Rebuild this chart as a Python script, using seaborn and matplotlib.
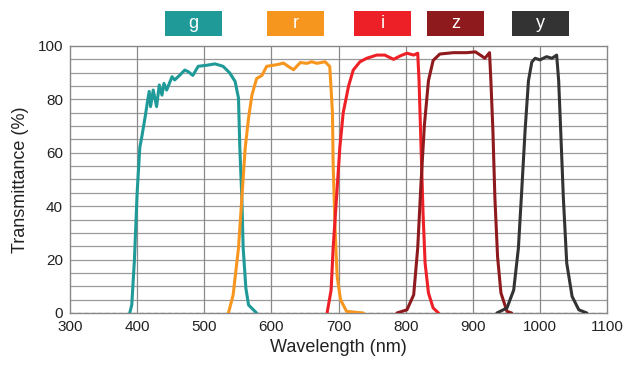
import numpy as np
import pandas as pd
import matplotlib
matplotlib.use("Agg")
import matplotlib.pyplot as plt
import seaborn as sns
from matplotlib.patches import Rectangle

# ---- data ----
filters = ["g", "r", "i", "z", "y"]
colors = ["#1f9a98", "#f7961f", "#ee2027", "#8f1a1d", "#333333"]

g_wl = [389, 392, 396, 400, 404, 407, 412, 415, 418, 420, 424, 429, 433, 437, 440, 444, 452, 456, 464, 471, 476, 483, 491, 504, 516, 528, 538, 546, 551, 553, 556, 558, 562, 566, 578]
g_t = [0, 3, 20, 45, 62, 66, 73.5, 78.5, 83, 77.3, 83.5, 77.3, 85.4, 81.6, 86, 83.5, 88.5, 87.3, 89.2, 91, 90.4, 89, 92.4, 92.8, 93.3, 92.4, 89.9, 86.7, 80.5, 61.8, 43, 24.3, 9.3, 3, 0]

r_wl = [536, 543, 551, 556, 561, 566, 571, 578, 586, 593, 608, 618, 625, 633, 643, 653, 660, 668, 680, 687, 691, 692, 695, 698, 703, 712, 737]
r_t = [0, 6.7, 24.3, 43, 61.8, 73, 81.6, 87.8, 89, 92.4, 93, 93.6, 92.4, 91.1, 93.8, 93.5, 94.1, 93.5, 94.1, 92.3, 75, 56, 31, 13.7, 5, 0.6, 0]

i_wl = [683, 689, 692, 697, 702, 707, 715, 722, 732, 742, 757, 769, 782, 792, 802, 812, 818, 820, 823, 826, 829, 834, 841, 849]
i_t = [0, 8.6, 24.3, 43, 62, 75, 85, 91, 94.1, 95.4, 96.6, 96.6, 95, 96.3, 97.3, 96.6, 97.3, 87, 62, 37, 18.7, 7.5, 1.9, 0]

z_wl = [787, 802, 812, 818, 823, 828, 834, 841, 851, 871, 891, 904, 913, 918, 925, 927, 930, 933, 937, 942, 951, 958]
z_t = [0, 1.2, 6.8, 24.3, 49, 70.5, 87, 94.6, 97, 97.5, 97.5, 97.8, 96.3, 95.4, 97.5, 87, 68.5, 43, 21, 7.5, 0.6, 0]

y_wl = [936, 951, 961, 968, 973, 978, 983, 988, 993, 1000, 1010, 1018, 1025, 1028, 1031, 1035, 1040, 1048, 1058, 1070]
y_t = [0, 1.9, 8.6, 24.3, 46, 68.5, 87, 94, 95.4, 94.8, 96, 95.4, 96.6, 87, 68.5, 43, 18.7, 6.2, 1.2, 0]

x_ticks = [300, 400, 500, 600, 700, 800, 900, 1000, 1100]
y_ticks = [0, 20, 40, 60, 80, 100]

series = {"g": (g_wl, g_t), "r": (r_wl, r_t), "i": (i_wl, i_t), "z": (z_wl, z_t), "y": (y_wl, y_t)}
frames = []
for name in filters:
    wl, t = series[name]
    frames.append(pd.DataFrame({"Wavelength": wl, "T": t, "filter": name}))
df = pd.concat(frames, ignore_index=True)

# ---- figure ----
sns.set_style("white")
plt.rcParams["font.family"] = ["Liberation Sans", "DejaVu Sans"]

W, H = 633, 369
fig = plt.figure(figsize=(W / 100, H / 100), dpi=100)
ax = fig.add_axes([70 / W, 1 - 313 / H, (607 - 70) / W, (313 - 46) / H])

# grid
for yv in np.arange(5, 100, 5):
    ax.axhline(yv, color="#9a9a9a", lw=0.9, zorder=0)
for xv in x_ticks[1:-1]:
    ax.axvline(xv, color="#8a8a8a", lw=0.9, zorder=0)
ax.axhline(0, color="#8fa8a0", lw=1.0, ls=(0, (3, 2)), zorder=1)

sns.lineplot(data=df, x="Wavelength", y="T", hue="filter", hue_order=filters,
             palette=dict(zip(filters, colors)), sort=False, estimator=None,
             lw=2.2, legend=False, ax=ax, zorder=3)

ax.set_xlim(300, 1100)
ax.set_ylim(0, 100)
ax.set_xticks(x_ticks)
ax.set_yticks(y_ticks)
ax.tick_params(axis="both", length=0, labelsize=11, colors="#222222", pad=5)
ax.set_xlabel("Wavelength (nm)", fontsize=13, color="#222222", labelpad=4)
ax.set_ylabel("Transmittance (%)", fontsize=13, color="#222222", labelpad=6)
for s in ax.spines.values():
    s.set_color("#888888")
    s.set_linewidth(1.0)

# colored filter labels at top
box_x = [165, 267, 354, 427, 512]
for name, col, bx in zip(filters, colors, box_x):
    x0 = bx / W
    y0 = 1 - 36 / H
    fig.patches.append(Rectangle((x0, y0), 57 / W, 25 / H, transform=fig.transFigure,
                                 facecolor=col, edgecolor="none"))
    fig.text(x0 + 28.5 / W, y0 + 12.5 / H, name, color="white", fontsize=13,
             ha="center", va="center")

fig.savefig("out.png", dpi=100)
